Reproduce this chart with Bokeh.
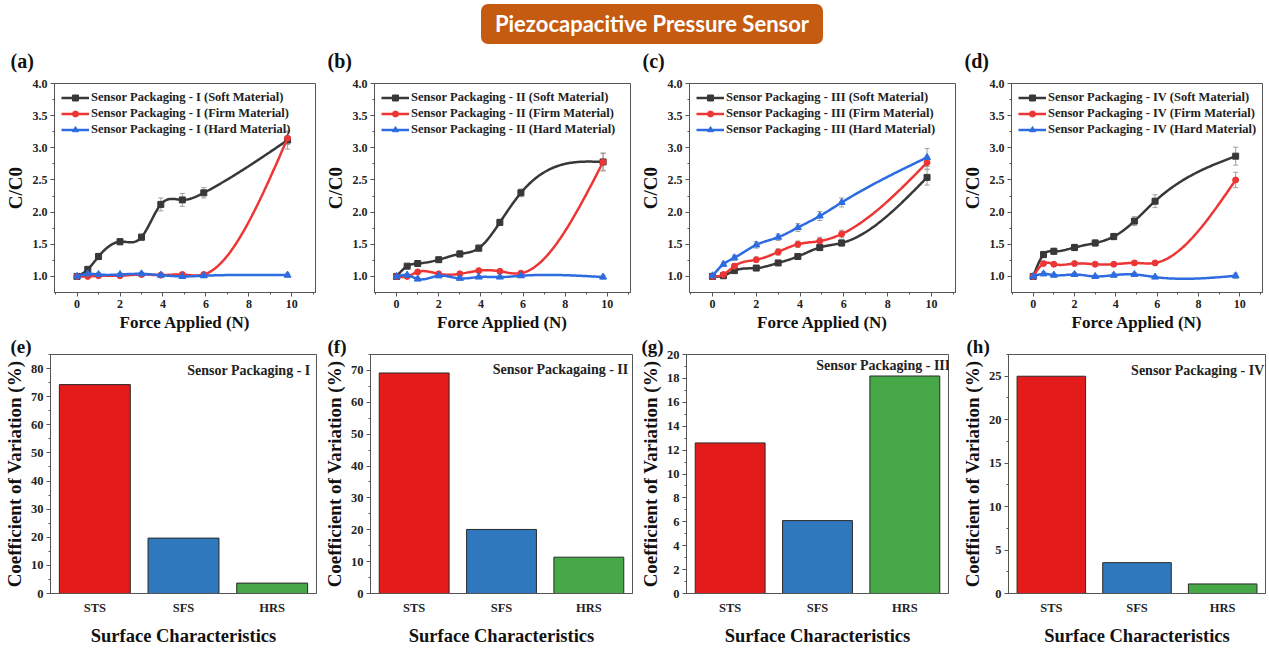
import numpy as np
from bokeh.plotting import figure
from bokeh.models import (Div, Whisker, ColumnDataSource, FixedTicker, TeeHead, Label, Title,
                          Range1d, FactorRange, PrintfTickFormatter)
from bokeh.layouts import column, row
from bokeh.embed import file_html
from bokeh.resources import INLINE

# ---------------- data ----------------
force = [0, 0.5, 1, 2, 3, 3.9, 4.9, 5.9, 9.8]

packagings = ["I", "II", "III", "IV"]
panel_top = ["(a)", "(b)", "(c)", "(d)"]
panel_bot = ["(e)", "(f)", "(g)", "(h)"]

soft_I = [1.00, 1.11, 1.31, 1.54, 1.61, 2.12, 2.19, 2.30, 3.12]
firm_I = [1.00, 1.00, 1.01, 1.01, 1.03, 1.02, 1.03, 1.03, 3.15]
hard_I = [1.00, 1.04, 1.03, 1.03, 1.04, 1.02, 1.00, 1.01, 1.02]
soft_I_err = [0.02, 0.03, 0.05, 0.05, 0.05, 0.10, 0.10, 0.08, 0.14]
firm_I_err = [0.02, 0.02, 0.02, 0.02, 0.02, 0.02, 0.03, 0.03, 0.10]
hard_I_err = [0.02, 0.02, 0.03, 0.02, 0.02, 0.03, 0.02, 0.02, 0.03]

soft_II = [1.00, 1.16, 1.20, 1.26, 1.35, 1.44, 1.84, 2.30, 2.78]
firm_II = [1.00, 1.00, 1.07, 1.04, 1.04, 1.09, 1.08, 1.05, 2.78]
hard_II = [1.00, 1.02, 0.96, 1.01, 0.97, 0.99, 0.99, 1.01, 0.99]
soft_II_err = [0.02, 0.03, 0.04, 0.04, 0.05, 0.05, 0.05, 0.06, 0.13]
firm_II_err = [0.02, 0.02, 0.03, 0.03, 0.03, 0.03, 0.03, 0.03, 0.14]
hard_II_err = [0.02, 0.02, 0.03, 0.03, 0.02, 0.02, 0.02, 0.02, 0.03]

soft_III = [1.00, 1.01, 1.09, 1.13, 1.21, 1.31, 1.45, 1.52, 2.54]
firm_III = [1.00, 1.03, 1.16, 1.26, 1.38, 1.50, 1.55, 1.66, 2.77]
hard_III = [1.01, 1.19, 1.29, 1.49, 1.61, 1.76, 1.94, 2.15, 2.85]
soft_III_err = [0.02, 0.02, 0.03, 0.03, 0.03, 0.04, 0.05, 0.05, 0.12]
firm_III_err = [0.02, 0.03, 0.04, 0.04, 0.05, 0.05, 0.06, 0.06, 0.10]
hard_III_err = [0.02, 0.03, 0.04, 0.05, 0.05, 0.06, 0.07, 0.07, 0.14]

soft_IV = [1.00, 1.34, 1.39, 1.45, 1.52, 1.62, 1.86, 2.17, 2.87]
firm_IV = [1.00, 1.20, 1.19, 1.20, 1.19, 1.19, 1.21, 1.21, 2.50]
hard_IV = [1.00, 1.04, 1.02, 1.03, 1.00, 1.02, 1.03, 0.99, 1.01]
soft_IV_err = [0.02, 0.05, 0.05, 0.05, 0.05, 0.05, 0.07, 0.10, 0.14]
firm_IV_err = [0.02, 0.03, 0.03, 0.03, 0.03, 0.03, 0.03, 0.03, 0.12]
hard_IV_err = [0.02, 0.03, 0.03, 0.03, 0.02, 0.03, 0.03, 0.02, 0.04]

surface = ["STS", "SFS", "HRS"]
cov_I = [74.3, 19.7, 3.7]
cov_II = [69.2, 20.1, 11.4]
cov_III = [12.6, 6.1, 18.2]
cov_IV = [25.0, 3.55, 1.1]
bar_titles = ["Sensor Packaging - I", "Sensor Packagaing - II",
              "Sensor Packaging - III", "Sensor Packaging - IV"]

materials = ["Soft Material", "Firm Material", "Hard Material"]

top_series = [
    [(soft_I, soft_I_err), (firm_I, firm_I_err), (hard_I, hard_I_err)],
    [(soft_II, soft_II_err), (firm_II, firm_II_err), (hard_II, hard_II_err)],
    [(soft_III, soft_III_err), (firm_III, firm_III_err), (hard_III, hard_III_err)],
    [(soft_IV, soft_IV_err), (firm_IV, firm_IV_err), (hard_IV, hard_IV_err)],
]
cov_values = [cov_I, cov_II, cov_III, cov_IV]

# ---------------- style ----------------
FONT = "Liberation Serif"
LINE_COLORS = ["#383838", "#EE3535", "#2C6CE0"]
MARKERS = ["square", "circle", "triangle"]
MARKER_SIZES = [6, 6, 7]
BAR_COLORS = ["#E41B1B", "#2F78BE", "#46A846"]
AX = "#555555"

# layout geometry: (width, left border, right border) per column
top_geom = [(320, 54, 5), (316, 54, 6), (322, 48, 3), (311, 51, 7)]
bot_geom = [(320, 47, 4), (316, 48, 4), (322, 46, 10), (311, 46, 4)]
label_dx_top = [44, 47, 47, 47]
label_dx_bot = [40, 43, 45, 42]
ann_dx = [-9, -6, -2, -5]
ann_dy = [-8, -7, -3, -8]
TITLE_H = 45
TOP_H, TOP_T, TOP_B = 289, 38, 41
BOT_H, BOT_T, BOT_B = 314, 20, 54
bot_ymax = [85, 75, 20, 27.5]
bot_ticks = [list(range(0, 81, 10)), list(range(0, 71, 10)),
             list(range(0, 21, 2)), list(range(0, 26, 5))]


def smooth(xs, ys, n=160):
    """Natural cubic spline through the data points (line rendering only)."""
    x = np.asarray(xs, float)
    y = np.asarray(ys, float)
    m = len(x)
    h = np.diff(x)
    A = np.zeros((m, m))
    b = np.zeros(m)
    A[0, 0] = 1
    A[-1, -1] = 1
    for i in range(1, m - 1):
        A[i, i - 1] = h[i - 1]
        A[i, i] = 2 * (h[i - 1] + h[i])
        A[i, i + 1] = h[i]
        b[i] = 6 * ((y[i + 1] - y[i]) / h[i] - (y[i] - y[i - 1]) / h[i - 1])
    M = np.linalg.solve(A, b)
    t = np.linspace(x[0], x[-1], n)
    idx = np.clip(np.searchsorted(x, t) - 1, 0, m - 2)
    x0, x1 = x[idx], x[idx + 1]
    hh = x1 - x0
    a0, a1 = x1 - t, t - x0
    s = (M[idx] * a0 ** 3 + M[idx + 1] * a1 ** 3) / (6 * hh) \
        + (y[idx] / hh - M[idx] * hh / 6) * a0 + (y[idx + 1] / hh - M[idx + 1] * hh / 6) * a1
    return list(t), list(s)


def style_axes(p, tick_size):
    for ax in (p.xaxis[0], p.yaxis[0]):
        ax.axis_line_color = AX
        ax.major_tick_line_color = AX
        ax.minor_tick_line_color = AX
        ax.major_tick_in = 0
        ax.major_tick_out = 4
        ax.minor_tick_in = 0
        ax.minor_tick_out = 2
        ax.major_label_text_font = FONT
        ax.major_label_text_font_style = "bold"
        ax.major_label_text_font_size = tick_size
        ax.major_label_text_color = "#222222"
        ax.axis_label_text_font = FONT
        ax.axis_label_text_font_style = "bold"
        ax.axis_label_text_color = "#111111"
        ax.major_label_standoff = 3
        ax.axis_label_standoff = 4
    p.xgrid.visible = False
    p.ygrid.visible = False
    p.outline_line_color = AX
    p.outline_line_width = 1
    p.background_fill_color = "white"
    p.border_fill_color = "white"


def panel_title(text, dx, size, standoff):
    return Title(text=text, align="left", offset=-dx, standoff=standoff,
                 text_font=FONT, text_font_style="bold", text_font_size=size,
                 text_color="#111111")


top_figs = []
for k in range(4):
    w, lb, rb = top_geom[k]
    p = figure(width=w, height=TOP_H, x_range=Range1d(-1.05, 11.1), y_range=Range1d(0.75, 4.0),
               output_backend="svg", toolbar_location=None,
               min_border_left=lb, min_border_right=rb, min_border_top=TOP_T, min_border_bottom=TOP_B)
    style_axes(p, "12px")
    p.xaxis.axis_label = "Force Applied (N)"
    p.yaxis.axis_label = "C/C0"
    p.xaxis.axis_label_text_font_size = "17px"
    p.yaxis.axis_label_text_font_size = "19px"
    p.xaxis.axis_label_standoff = 2
    p.xaxis.ticker = FixedTicker(ticks=[0, 2, 4, 6, 8, 10], minor_ticks=[-1, 1, 3, 5, 7, 9, 11])
    p.yaxis.ticker = FixedTicker(ticks=[1.0, 1.5, 2.0, 2.5, 3.0, 3.5, 4.0],
                                 minor_ticks=[1.25, 1.75, 2.25, 2.75, 3.25, 3.75])
    p.yaxis.formatter = PrintfTickFormatter(format="%.1f")
    for j, (vals, errs) in enumerate(top_series[k]):
        name = f"Sensor Packaging - {packagings[k]} ({materials[j]})"
        sx, sy = smooth(force, vals)
        p.line(sx, sy, line_color=LINE_COLORS[j], line_width=2.5, legend_label=name)
        src = ColumnDataSource(dict(x=force, y=vals,
                                    lo=[v - e for v, e in zip(vals, errs)],
                                    hi=[v + e for v, e in zip(vals, errs)]))
        wk = Whisker(base="x", lower="lo", upper="hi", source=src, line_color="#a0a0a0", line_width=1,
                     upper_head=TeeHead(size=5, line_color="#a0a0a0", line_width=1),
                     lower_head=TeeHead(size=5, line_color="#a0a0a0", line_width=1))
        p.add_layout(wk)
        p.scatter("x", "y", source=src, marker=MARKERS[j], size=MARKER_SIZES[j],
                  fill_color=LINE_COLORS[j], line_color=LINE_COLORS[j], legend_label=name)
    lg = p.legend[0]
    lg.location = "top_left"
    lg.background_fill_alpha = 0
    lg.border_line_alpha = 0
    lg.label_text_font = FONT
    lg.label_text_font_style = "bold"
    lg.label_text_font_size = "12.5px"
    lg.label_text_color = "#222222"
    lg.glyph_width = 28
    lg.glyph_height = 15
    lg.label_height = 15
    lg.label_standoff = 2
    lg.spacing = 1
    lg.padding = 2
    lg.margin = 5
    # spacer (closest to the frame) then the panel letter above it
    p.add_layout(Title(text=" ", text_font_size="9px", standoff=0), "above")
    p.add_layout(panel_title(panel_top[k], label_dx_top[k], "20px", 0), "above")
    top_figs.append(p)

bot_figs = []
for k in range(4):
    w, lb, rb = bot_geom[k]
    p = figure(width=w, height=BOT_H, x_range=FactorRange(*surface), y_range=Range1d(0, bot_ymax[k]),
               output_backend="svg", toolbar_location=None,
               min_border_left=lb, min_border_right=rb, min_border_top=BOT_T, min_border_bottom=BOT_B)
    style_axes(p, "12.5px")
    p.xaxis.axis_label = "Surface Characteristics"
    p.yaxis.axis_label = "Coefficient of Variation (%)"
    p.xaxis.axis_label_text_font_size = "18.5px"
    p.yaxis.axis_label_text_font_size = "19px"
    p.yaxis.axis_label_standoff = 3
    p.xaxis.major_tick_out = 0
    p.xaxis.major_label_standoff = 7
    p.xaxis.axis_label_standoff = 8
    t = bot_ticks[k]
    step = t[1] - t[0]
    p.yaxis.ticker = FixedTicker(ticks=t, minor_ticks=[v + step / 2 for v in t])
    src = ColumnDataSource(dict(x=surface, top=cov_values[k], color=BAR_COLORS))
    p.vbar(x="x", top="top", width=0.8, source=src, fill_color="color",
           line_color="#2a2a2a", line_width=1)
    p.add_layout(Label(x=(w - lb - rb) + ann_dx[k], y=bot_ymax[k], x_units="screen", y_units="data",
                       y_offset=ann_dy[k],
                       text=bar_titles[k], text_font=FONT, text_font_style="bold",
                       text_font_size="14px", text_color="#222222",
                       text_align="right", text_baseline="top"))
    p.add_layout(panel_title(panel_bot[k], label_dx_bot[k], "19px", -5), "above")
    bot_figs.append(p)

title_html = (
    '<div style="position:relative;width:1269px;height:45px;">'
    '<div style="position:absolute;left:481px;top:4px;width:342px;height:40px;'
    'background:#C55A11;border-radius:7px;color:#ffffff;font-family:Lato, sans-serif;'
    'font-weight:bold;font-size:22px;line-height:40px;text-align:center;">'
    'Piezocapacitive Pressure Sensor</div></div>'
)
title = Div(text=title_html, width=1269, height=TITLE_H, margin=(0, 0, 0, 0))

layout = column(title, row(*top_figs), row(*bot_figs))
open("out.html", "w").write(file_html(layout, INLINE))
